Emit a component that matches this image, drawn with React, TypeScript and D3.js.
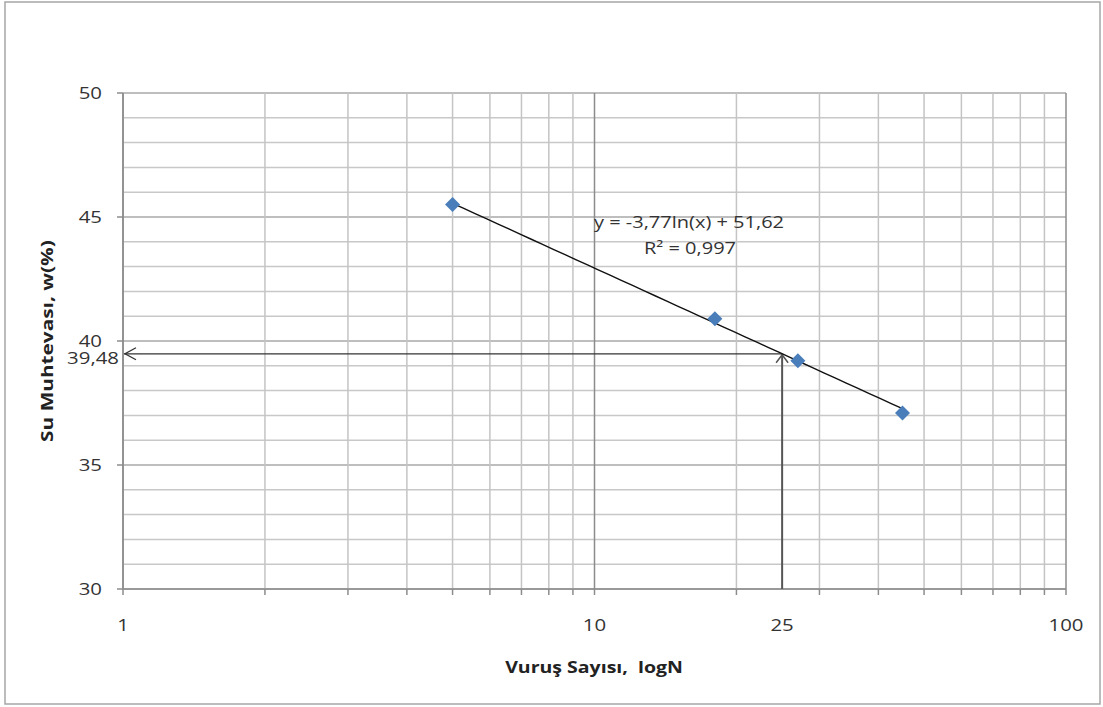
import React from "react";
import * as d3 from "d3";

// Blow count vs. water content (liquid limit test)
const blowCounts = [5, 18, 27, 45];
const waterContents = [45.5, 40.9, 39.2, 37.1];
const fitSlope = -3.77;
const fitIntercept = 51.62;
const fitR2 = "0,997";
const targetBlows = 25;
const yTicks = [30, 35, 40, 45, 50];
const xTickLabels = [1, 10, 25, 100];

const W = 1103;
const H = 707;
const M = { left: 123, right: 1066, top: 93, bottom: 589 };
const FONT = "'Open Sans', 'DejaVu Sans', sans-serif";

type TProps = {
  x: number;
  y: number;
  anchor?: "start" | "middle" | "end";
  size?: number;
  weight?: string;
  sx?: number;
  rotate?: number;
  fill?: string;
  children: React.ReactNode;
};

// Text with a slight horizontal stretch, like the wide Calibri-style rendering
function T({ x, y, anchor = "middle", size = 17, weight = "normal", sx = 1.2, rotate = 0, fill = "#333", children }: TProps) {
  return (
    <text
      transform={`translate(${x},${y}) rotate(${rotate}) scale(${sx},1)`}
      dy="0.35em"
      textAnchor={anchor}
      fontSize={size}
      fontWeight={weight}
      fill={fill}
      style={{ whiteSpace: "pre" }}
    >
      {children}
    </text>
  );
}

export default function App() {
  const x = d3.scaleLog().domain([1, 100]).range([M.left, M.right]);
  const y = d3.scaleLinear().domain([30, 50]).range([M.bottom, M.top]);

  const minorX: number[] = [];
  for (let d = 1; d <= 10; d *= 10) for (let k = 1; k <= 9; k++) minorX.push(k * d);
  minorX.push(100);
  const minorY = d3.range(30, 51, 1);

  const fit = (n: number) => fitSlope * Math.log(n) + fitIntercept;
  const targetW = fit(targetBlows);
  const targetLabel = targetW.toFixed(2).replace(".", ",");

  const xMin = d3.min(blowCounts)!;
  const xMax = d3.max(blowCounts)!;
  const trend = d3.range(0, 41).map((i) => {
    const n = Math.exp(Math.log(xMin) + (i / 40) * (Math.log(xMax) - Math.log(xMin)));
    return [x(n), y(fit(n))] as [number, number];
  });
  const trendPath = d3.line()(trend) || "";

  const tx = x(targetBlows);
  const ty = y(targetW);
  const r = 7.5;
  const diamond = `M0,${-r}L${r},0L0,${r}L${-r},0Z`;

  return (
    <svg
      width={W}
      height={H}
      style={{ position: "absolute", left: 0, top: 0, background: "#fff" }}
      fontFamily={FONT}
    >
      <rect x={5} y={2} width={1095} height={702} fill="#fff" stroke="#a6a6a6" strokeWidth={1.5} />

      {/* horizontal grid */}
      {minorY.map((v) => (
        <line
          key={"hy" + v}
          x1={M.left}
          x2={M.right}
          y1={y(v)}
          y2={y(v)}
          stroke={v % 5 === 0 ? "#a8a8a8" : "#c8c8c8"}
          strokeWidth={1.5}
        />
      ))}
      {/* vertical grid */}
      {minorX.map((v) => {
        const major = v === 1 || v === 10 || v === 100;
        return (
          <line
            key={"vx" + v}
            x1={x(v)}
            x2={x(v)}
            y1={M.top}
            y2={M.bottom}
            stroke={major ? "#8c8c8c" : "#c4c4c4"}
            strokeWidth={1.5}
          />
        );
      })}
      {minorX.map((v) => (
        <line key={"xt" + v} x1={x(v)} x2={x(v)} y1={M.bottom} y2={M.bottom + 6} stroke="#8c8c8c" strokeWidth={1.5} />
      ))}
      {/* axes */}
      <line x1={M.left} x2={M.right} y1={M.bottom} y2={M.bottom} stroke="#8c8c8c" strokeWidth={1.5} />
      <line x1={M.left} x2={M.left} y1={M.top} y2={M.bottom} stroke="#8c8c8c" strokeWidth={1.5} />
      {yTicks.map((v) => (
        <g key={"yt" + v}>
          <line x1={M.left - 6} x2={M.left} y1={y(v)} y2={y(v)} stroke="#8c8c8c" strokeWidth={1.5} />
          <T x={M.left - 21} y={y(v)} anchor="end">
            {v}
          </T>
        </g>
      ))}
      {xTickLabels.map((v) => (
        <T key={"xl" + v} x={x(v)} y={625}>
          {v}
        </T>
      ))}

      {/* reading at 25 blows */}
      <line x1={tx} x2={tx} y1={M.bottom} y2={ty + 1} stroke="#555" strokeWidth={2} />
      <path d={`M${tx - 6},${ty + 9} L${tx},${ty + 1} L${tx + 6},${ty + 9}`} fill="none" stroke="#555" strokeWidth={1.5} />
      <line x1={M.left + 1} x2={tx} y1={ty} y2={ty} stroke="#333" strokeWidth={1.3} />
      <path d={`M${M.left + 13},${ty - 6} L${M.left + 2},${ty} L${M.left + 13},${ty + 6}`} fill="none" stroke="#333" strokeWidth={1.3} />
      <T x={M.left - 4} y={ty + 4} anchor="end">
        {targetLabel}
      </T>

      {/* trendline */}
      <path d={trendPath} fill="none" stroke="#111" strokeWidth={1.4} />

      {/* data points */}
      {blowCounts.map((n, i) => (
        <path key={"pt" + i} d={diamond} transform={`translate(${x(n)},${y(waterContents[i])})`} fill="#4a7ebb" />
      ))}

      <T x={689} y={222} size={16} sx={1.25}>
        {`y = ${fitSlope.toFixed(2).replace(".", ",")}ln(x) + ${fitIntercept.toFixed(2).replace(".", ",")}`}
      </T>
      <T x={690} y={248} size={16} sx={1.25}>
        {`R² = ${fitR2}`}
      </T>

      <T x={594} y={667} size={16} weight="bold" sx={1.22} fill="#222">
        {"Vuruş Sayısı,  logN"}
      </T>
      <T x={47} y={341} size={16} weight="bold" sx={1.3} rotate={-90} fill="#222">
        Su Muhtevası, w(%)
      </T>
    </svg>
  );
}
